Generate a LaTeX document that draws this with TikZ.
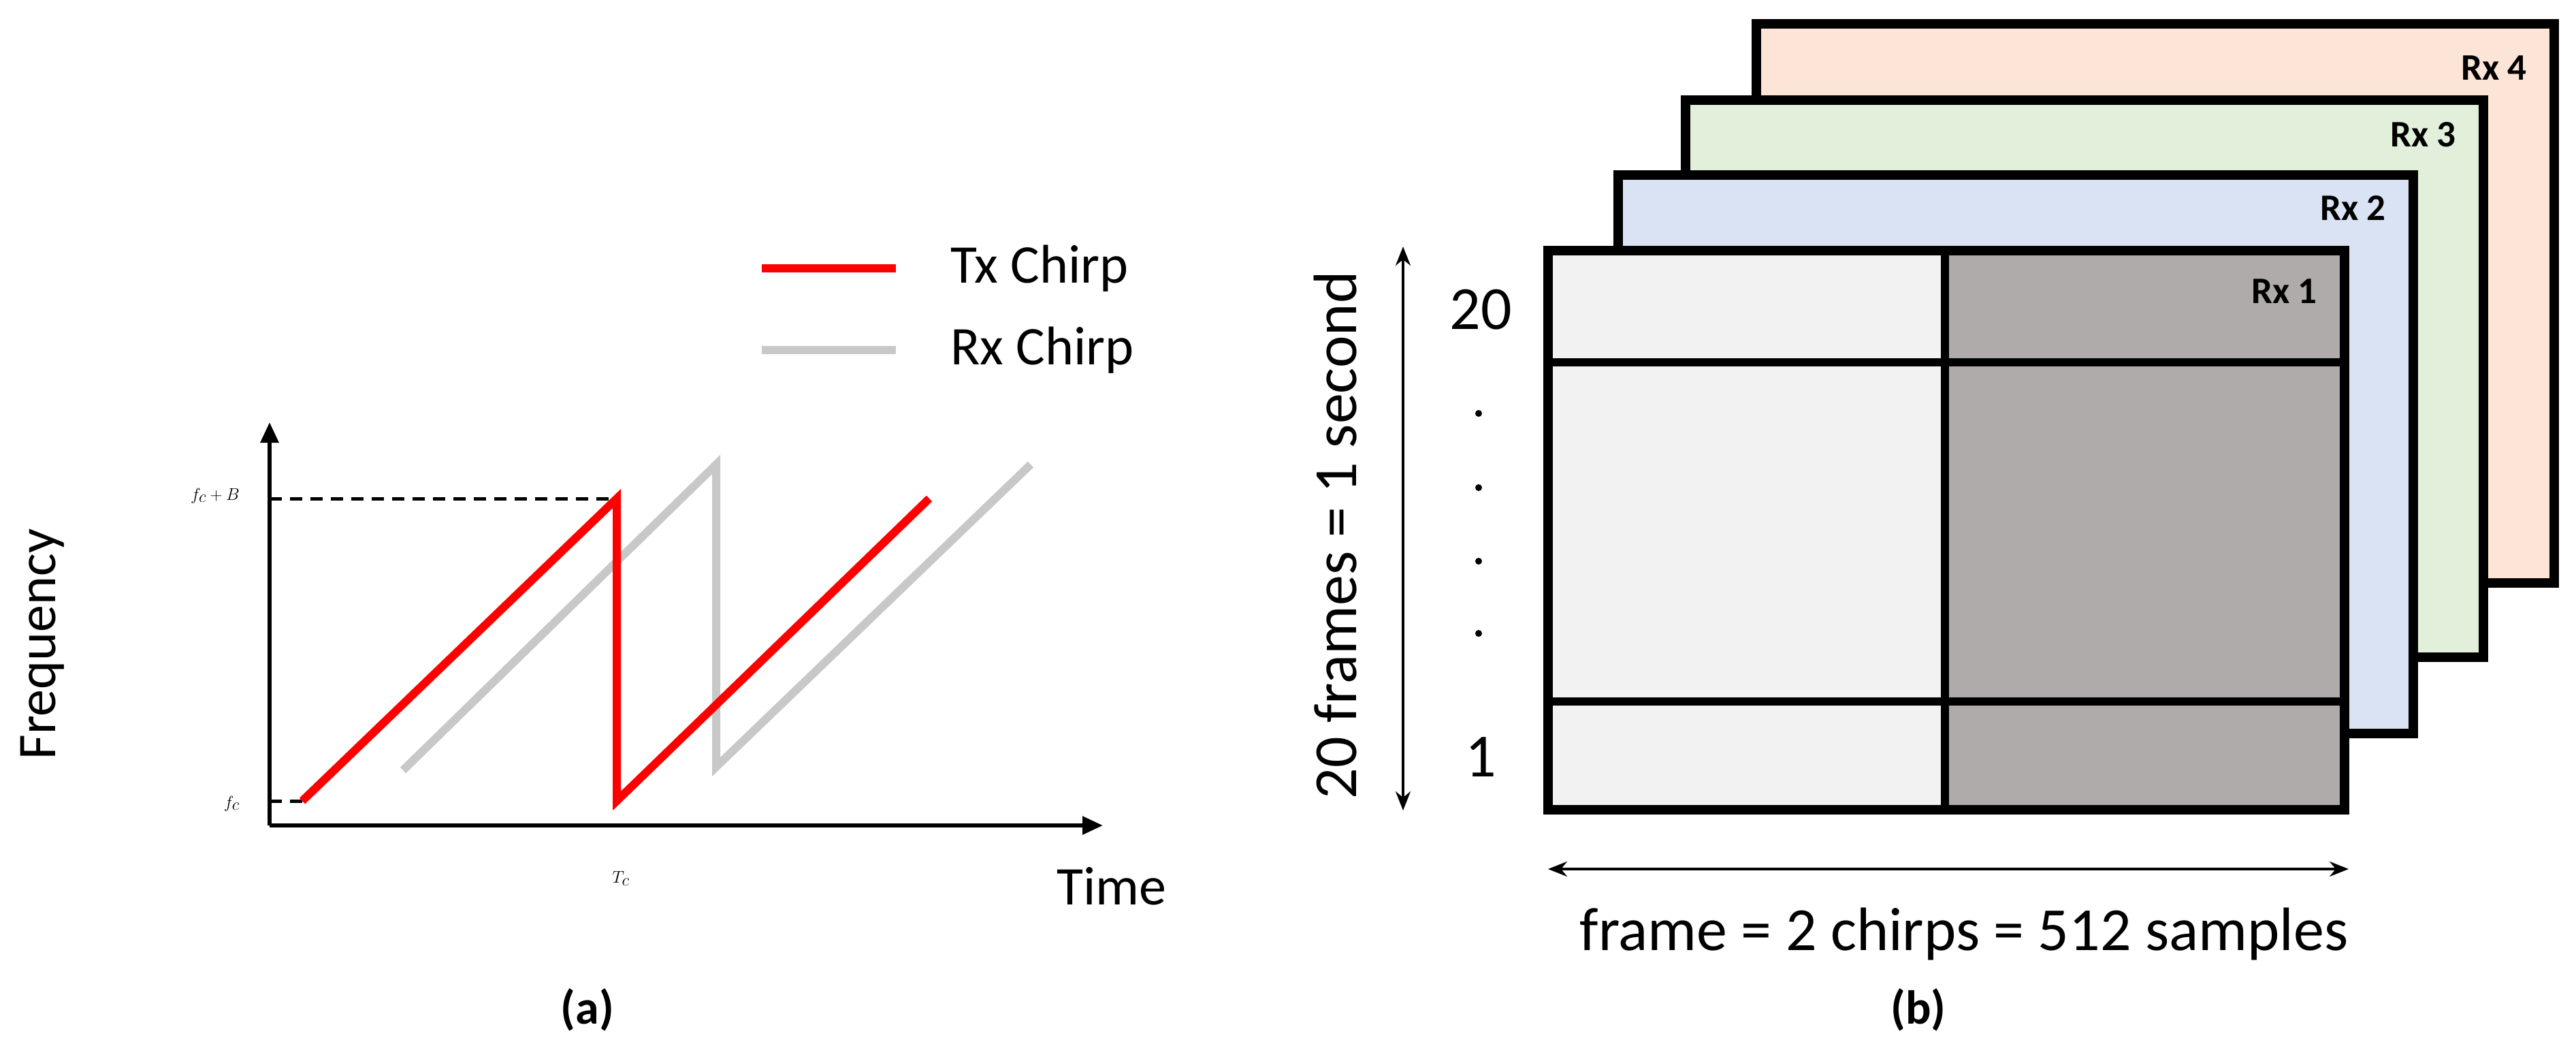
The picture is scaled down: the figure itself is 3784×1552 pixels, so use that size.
\documentclass[tikz,border=0pt]{standalone}
\usepackage{fontspec}
\setmainfont{Carlito}
\usetikzlibrary{arrows.meta}
\definecolor{txred}{HTML}{FF0000}
\definecolor{rxgray}{HTML}{C8C8C8}
\definecolor{c4}{HTML}{FCE4D6}
\definecolor{c3}{HTML}{E2EFDA}
\definecolor{c2}{HTML}{DAE3F3}
\definecolor{cl}{HTML}{F2F2F2}
\definecolor{cd}{HTML}{AFABAB}
\begin{document}
\begin{tikzpicture}[x=1pt,y=-1pt,
  lbl/.style={inner sep=0pt,font=\fontsize{80}{90}\selectfont},
  big/.style={inner sep=0pt,font=\fontsize{90}{100}\selectfont},
  captxt/.style={inner sep=0pt,font=\fontsize{70}{80}\selectfont\bfseries},
  rxl/.style={inner sep=0pt,anchor=east,font=\fontsize{55}{60}\selectfont\bfseries},
  frame/.style={line width=14pt},
  axis/.style={line width=6pt,-{Triangle[length=30pt,width=26pt]}},
  tx/.style={line width=12pt,txred,line join=miter},
  rx/.style={line width=12pt,rxgray},
  dim/.style={line width=4pt,{Stealth[length=28pt,width=22pt]}-{Stealth[length=28pt,width=22pt]}}]
\useasboundingbox (0,0) rectangle (3784,1552);
% ---- panel (a)
\coordinate (O) at (396,1212);
\coordinate (Yt) at (396,620);
\coordinate (Xr) at (1620,1212);
\draw[axis] (O) -- (Yt);
\draw[axis] (O) -- (Xr);
\coordinate (yB) at (396,732);
\coordinate (yC) at (396,1176);
\coordinate (t0) at (444,1176);
\coordinate (t1) at (906,732);
\coordinate (t2) at (906,1176);
\coordinate (t3) at (1365,732);
\coordinate (r0) at (592,1131);
\coordinate (r1) at (1052,682);
\coordinate (r2) at (1052,1126);
\coordinate (r3) at (1514,682);
\draw[line width=5pt,dash pattern=on 18pt off 12pt] (yB) -- (t1);
\draw[line width=5pt,dash pattern=on 18pt off 12pt] (yC) -- (t0);
\draw[rx] (r0) -- (r1) -- (r2) -- (r3);
\draw[tx] (t0) -- (t1) -- (t2) -- (t3);
\node[lbl,anchor=east] (lB) at (352,728) {$f_c+B$};
\node[lbl,anchor=east] (lC) at (352,1180) {$f_c$};
\node[lbl] (lT) at (912,1290) {$T_c$};
\node[lbl] (lTime) at (1633,1301) {Time};
\node[lbl,rotate=90] (lF) at (62,946) {Frequency};
\coordinate (lg1) at (1119,394); \coordinate (lg2) at (1316,394);
\coordinate (lg3) at (1119,514); \coordinate (lg4) at (1316,514);
\draw[tx] (lg1) -- (lg2);
\draw[rx] (lg3) -- (lg4);
\node[lbl,anchor=west] (lTx) at (1396,394) {Tx Chirp};
\node[lbl,anchor=west] (lRx) at (1396,514) {Rx Chirp};
\node[captxt] (ca) at (863,1483) {(a)};
% ---- panel (b)
\draw[frame,fill=c4] (2580,35) rectangle (3752,856);
\draw[frame,fill=c3] (2476,147) rectangle (3648,965);
\draw[frame,fill=c2] (2377,257) rectangle (3545,1077);
\fill[cl] (2274,368) rectangle (2857,1189);
\fill[cd] (2857,368) rectangle (3444,1189);
\draw[line width=12pt] (2857,368) -- (2857,1189);
\draw[line width=12pt] (2274,532) -- (3444,532);
\draw[line width=12pt] (2274,1030) -- (3444,1030);
\draw[frame] (2274,368) rectangle (3444,1189);
\node[rxl] (x4) at (3712,100) {Rx 4};
\node[rxl] (x3) at (3608,198) {Rx 3};
\node[rxl] (x2) at (3505,305) {Rx 2};
\node[rxl] (x1) at (3404,428) {Rx 1};
\coordinate (va) at (2061,362); \coordinate (vb) at (2061,1190);
\draw[dim] (va) -- (vb);
\node[big,rotate=90] (vt) at (1962,786) {20 frames = 1 second};
\node[big] (n20) at (2175,455) {20};
\node[big] (n1) at (2175,1112) {1};
\foreach \yy in {607,716,824,930} \fill (2172,\yy) circle (5pt);
\coordinate (ha) at (2274,1276); \coordinate (hb) at (3450,1276);
\draw[dim] (ha) -- (hb);
\node[big] (ht) at (2885,1371) {frame = 2 chirps = 512 samples};
\node[captxt] (cb) at (2818,1483) {(b)};
\end{tikzpicture}
\end{document}
